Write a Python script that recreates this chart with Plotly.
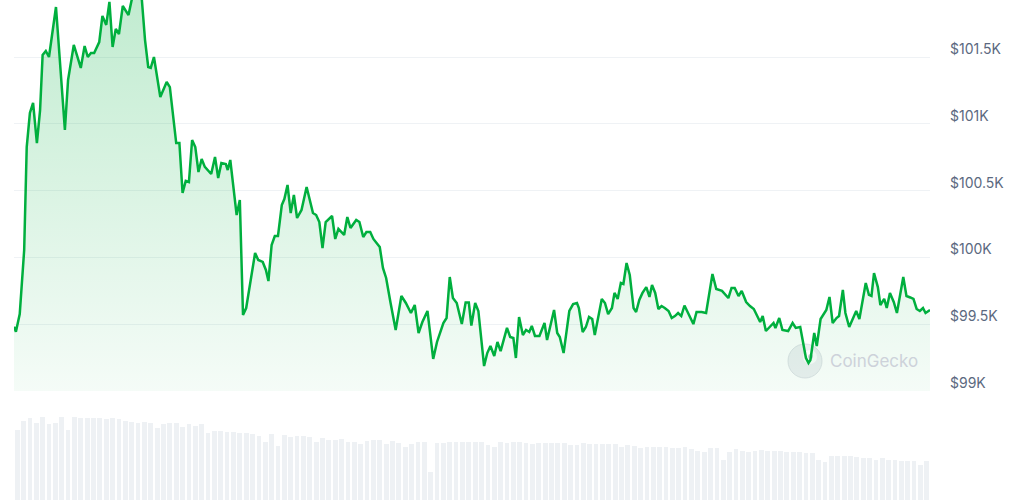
import plotly.graph_objects as go

# ---- price series: minutes since window start, USD price ----
minutes = [
    0, 3, 9, 16, 20, 25, 30, 36, 41, 45, 50, 55, 66, 80, 85, 94, 105, 111, 116, 121,
    126, 134, 139, 145, 150, 155, 160, 165, 171, 180, 185, 193, 201, 206, 211, 215, 220, 230, 240, 245,
    255, 260, 265, 270, 275, 280, 285, 290, 295, 300, 310, 316, 321, 326, 333, 336, 340, 350, 355, 360,
    365, 371, 379, 384, 391, 396, 400, 405, 410, 415, 421, 425, 430, 435, 440, 445, 452, 460, 470, 475,
    480, 485, 490, 500, 505, 510, 519, 524, 529, 538, 543, 549, 554, 560, 565, 570, 575, 580, 585, 592,
    600, 609, 616, 624, 630, 636, 642, 650, 659, 665, 675, 680, 685, 690, 696, 704, 710, 715, 719, 725,
    730, 739, 744, 749, 755, 760, 765, 775, 780, 785, 789, 794, 800, 805, 810, 814, 819, 826, 834, 838,
    849, 854, 858, 864, 873, 879, 885, 888, 894, 899, 904, 909, 913, 924, 929, 934, 940, 944, 949, 954,
    958, 963, 968, 974, 978, 983, 988, 994, 999, 1003, 1008, 1013, 1018, 1023, 1029, 1034, 1039, 1044, 1049, 1054,
    1061, 1068, 1073, 1081, 1088, 1098, 1104, 1113, 1123, 1128, 1133, 1139, 1144, 1151, 1157, 1163, 1173, 1177, 1182, 1187,
    1194, 1197, 1203, 1208, 1217, 1224, 1229, 1236, 1240, 1245, 1249, 1252, 1258, 1262, 1268, 1277, 1282, 1287, 1293, 1297,
    1303, 1307, 1313, 1318, 1324, 1329, 1339, 1344, 1348, 1352, 1358, 1362, 1368, 1372, 1377, 1383, 1388, 1398, 1403, 1409,
    1414, 1419, 1424, 1429, 1433, 1440,
]
prices = [
    99481, 99444, 99576, 100055, 100826, 101081, 101156, 100856, 101103, 101515, 101545, 101500, 101874, 100954, 101328, 101590, 101418, 101582, 101500, 101530,
    101530, 101612, 101807, 101740, 101912, 101575, 101710, 101672, 101882, 101814, 101927, 102002, 101927, 101627, 101425, 101418, 101500, 101201, 101313, 101275,
    100856, 100856, 100482, 100572, 100564, 100879, 100826, 100639, 100737, 100677, 100624, 100752, 100594, 100707, 100699, 100654, 100729, 100317, 100430, 99569,
    99621, 99808, 100033, 99981, 99966, 99906, 99823, 100093, 100160, 100160, 100392, 100437, 100542, 100332, 100467, 100295, 100355, 100527, 100332, 100317,
    100265, 100070, 100265, 100310, 100138, 100213, 100168, 100302, 100220, 100280, 100265, 100153, 100190, 100190, 100138, 100108, 100078, 99921, 99846, 99659,
    99457, 99711, 99659, 99584, 99644, 99434, 99516, 99599, 99240, 99367, 99509, 99546, 99853, 99696, 99659, 99501, 99662, 99662, 99490, 99659,
    99599, 99187, 99284, 99337, 99262, 99367, 99299, 99472, 99404, 99397, 99247, 99554, 99419, 99457, 99442, 99487, 99412, 99412, 99509, 99382,
    99606, 99434, 99404, 99284, 99599, 99651, 99659, 99621, 99442, 99479, 99554, 99539, 99419, 99689, 99659, 99576, 99621, 99734, 99689, 99808,
    99801, 99958, 99868, 99621, 99591, 99681, 99734, 99778, 99704, 99793, 99734, 99614, 99636, 99621, 99599, 99546, 99561, 99584, 99561, 99640,
    99569, 99501, 99591, 99591, 99584, 99876, 99763, 99749, 99696, 99771, 99771, 99711, 99749, 99666, 99636, 99614, 99516, 99561, 99449, 99472,
    99509, 99472, 99546, 99457, 99449, 99509, 99472, 99479, 99367, 99247, 99210, 99232, 99434, 99337, 99539, 99606, 99704, 99509, 99546, 99561,
    99756, 99584, 99479, 99539, 99599, 99539, 99808, 99719, 99711, 99883, 99778, 99644, 99689, 99621, 99734, 99666, 99584, 99853, 99711, 99700,
    99689, 99614, 99599, 99621, 99584, 99606,
]
assert len(minutes) == len(prices)

# ---- volume bars: 10-minute buckets (USD millions, relative) ----
volume_minutes = [5 + 10 * i for i in range(144)]
volumes = [
    350, 396, 408, 385, 416, 378, 386, 416, 350, 416,
    408, 411, 411, 408, 406, 410, 403, 396, 391, 386,
    391, 383, 362, 378, 383, 383, 366, 378, 370, 378,
    335, 345, 345, 338, 338, 333, 333, 328, 321, 291,
    328, 270, 325, 313, 320, 320, 313, 291, 311, 300,
    302, 303, 291, 288, 280, 295, 300, 300, 280, 296,
    286, 266, 278, 291, 291, 141, 284, 287, 291, 291,
    289, 289, 289, 290, 275, 266, 290, 287, 288, 291,
    287, 280, 287, 287, 287, 287, 287, 275, 275, 287,
    280, 279, 279, 280, 280, 265, 275, 270, 260, 266,
    266, 266, 266, 262, 258, 263, 255, 246, 241, 261,
    261, 200, 240, 253, 246, 241, 245, 252, 246, 246,
    246, 241, 240, 241, 235, 233, 200, 190, 220, 220,
    220, 220, 213, 208, 210, 200, 208, 200, 200, 196,
    196, 196, 175, 195,
]
assert len(volume_minutes) == len(volumes)

tick_values = [99000, 99500, 100000, 100500, 101000, 101500]
tick_labels = ["$99K", "$99.5K", "$100K", "$100.5K", "$101K", "$101.5K"]

LINE = "rgb(0,175,62)"
GRID = "#eff2f5"

fig = go.Figure()

fig.add_trace(go.Bar(
    x=volume_minutes, y=volumes, yaxis="y2", xaxis="x",
    marker=dict(color="#eef1f4", line=dict(width=0)),
    width=7.5, hoverinfo="skip", showlegend=False,
))

fig.add_trace(go.Scatter(
    x=minutes, y=prices, mode="lines", yaxis="y", xaxis="x",
    line=dict(color=LINE, width=2.5, shape="linear"),
    fill="tozeroy",
    fillgradient=dict(
        type="vertical",
        colorscale=[[0, "rgba(0,175,62,0.04)"], [1, "rgba(0,175,62,0.24)"]],
        start=99000, stop=101900,
    ),
    hoverinfo="skip", showlegend=False,
))

W, H = 1024, 500
x0px, x1px = 14, 930
price_bottom_px = 391
px_per_usd = 66.8 / 500.0
price_top = 99000 + price_bottom_px / px_per_usd

fig.update_layout(
    width=W, height=H,
    margin=dict(l=0, r=0, t=0, b=0),
    paper_bgcolor="white", plot_bgcolor="white",
    bargap=0,
    xaxis=dict(
        domain=[x0px / W, x1px / W], range=[0, 1440],
        showgrid=False, zeroline=False, showticklabels=False, showline=False,
        fixedrange=True,
    ),
    yaxis=dict(
        domain=[(H - price_bottom_px) / H, 1], range=[99000, price_top],
        side="right", anchor="x",
        tickmode="array", tickvals=tick_values, ticktext=tick_labels,
        showgrid=True, gridcolor=GRID, gridwidth=1, zeroline=False, showline=False,
        ticks="", ticklabelstandoff=19, ticklabelshift=-8,
        tickfont=dict(family="Inter, Roboto, sans-serif", size=14, color="#5b6980"),
        automargin=False,
    ),
    yaxis2=dict(
        domain=[0, 0.2], range=[0, 500], anchor="x",
        showgrid=False, zeroline=False, showticklabels=False, showline=False,
    ),
    shapes=[
        dict(type="circle", xref="paper", yref="paper",
             x0=788 / W, x1=822 / W, y0=(H - 378) / H, y1=(H - 344) / H,
             fillcolor="rgba(222,226,231,0.55)", line=dict(color="rgba(215,219,225,0.8)", width=1),
             layer="below"),
        dict(type="circle", xref="paper", yref="paper",
             x0=803 / W, x1=817 / W, y0=(H - 364) / H, y1=(H - 350) / H,
             fillcolor="rgba(255,255,255,0.85)", line=dict(width=0), layer="below"),
        dict(type="circle", xref="paper", yref="paper",
             x0=808 / W, x1=813 / W, y0=(H - 359) / H, y1=(H - 354) / H,
             fillcolor="rgba(200,205,212,0.9)", line=dict(width=0), layer="below"),
    ],
    annotations=[
        dict(text="CoinGecko", xref="paper", yref="paper",
             x=828 / W, y=(H - 361) / H, xanchor="left", yanchor="middle",
             showarrow=False,
             font=dict(family="Inter, Roboto, sans-serif", size=17, color="#cdd2da")),
    ],
)

fig.write_html(
    "out.html",
    config={"displayModeBar": False, "staticPlot": True},
    post_script="document.body.style.margin='0';document.body.style.overflow='hidden';",
)
